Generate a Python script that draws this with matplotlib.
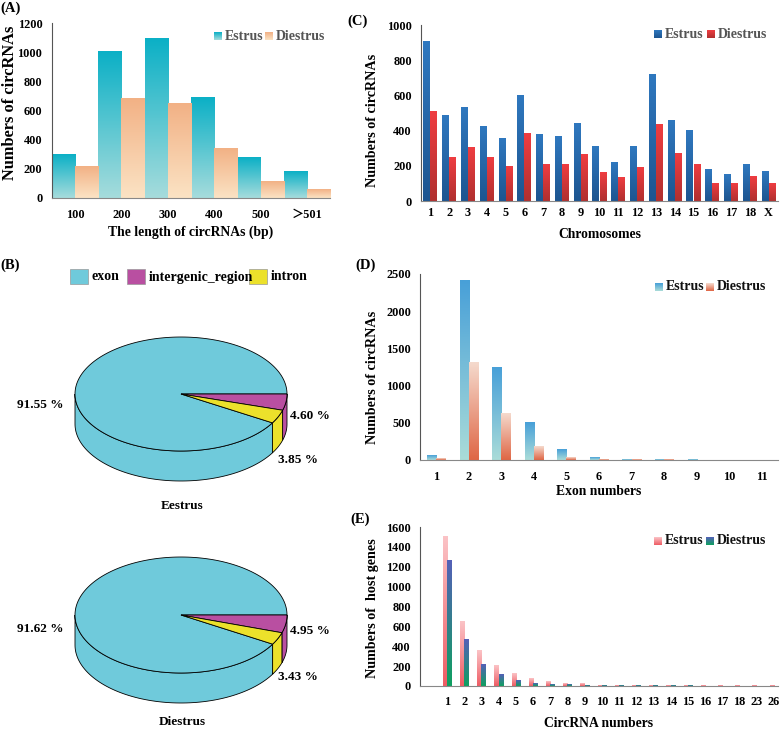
import numpy as np
import matplotlib
matplotlib.use("Agg")
import matplotlib.pyplot as plt
from matplotlib.colors import LinearSegmentedColormap
from matplotlib.patches import Polygon, Rectangle

plt.rcParams['font.family'] = ['Liberation Serif', 'Noto Sans CJK SC', 'DejaVu Serif']
plt.rcParams['font.weight'] = 'bold'
plt.rcParams['axes.labelweight'] = 'bold'

# (A) length distribution
len_cats = ['100', '200', '300', '400', '500', '＞501']
len_estrus = [300, 1005, 1095, 690, 280, 180]
len_diestrus = [215, 685, 645, 340, 110, 58]

# (B) genomic origin (%)
origin_names = ['exon', 'intergenic_region', 'intron']
origin_estrus = [91.55, 4.60, 3.85]
origin_diestrus = [91.62, 4.95, 3.43]

# (C) chromosomes
chroms = ['1', '2', '3', '4', '5', '6', '7', '8', '9', '10', '11', '12', '13',
          '14', '15', '16', '17', '18', 'X']
chr_estrus = [905, 485, 530, 425, 355, 600, 378, 368, 438, 310, 220, 310, 720,
              460, 400, 180, 148, 210, 170]
chr_diestrus = [510, 245, 305, 250, 195, 385, 205, 205, 265, 160, 135, 188, 433,
                270, 210, 97, 97, 137, 97]

# (D) exon numbers
exon_cats = ['1', '2', '3', '4', '5', '6', '7', '8', '9', '10', '11']
exon_estrus = [65, 2410, 1250, 500, 140, 30, 12, 3, 1, 0, 0]
exon_diestrus = [25, 1305, 620, 185, 35, 12, 5, 1, 0, 0, 0]

# (E) circRNAs per host gene
host_cats = ['1', '2', '3', '4', '5', '6', '7', '8', '9', '10', '11', '12', '13',
             '14', '15', '16', '17', '18', '23', '26']
host_estrus = [1505, 645, 360, 210, 130, 80, 45, 25, 22, 10, 8, 5, 5, 3, 2, 1, 1, 1, 1, 1]
host_diestrus = [1260, 465, 220, 120, 55, 30, 12, 12, 5, 4, 3, 2, 1, 1, 1, 0, 0, 0, 0, 0]

W, H = 784, 729
fig = plt.figure(figsize=(W / 100, H / 100), dpi=100)


def fx(px):
    return px / W


def fy(py):
    return 1 - py / H


def grad_bars(ax, x, vals, width, c_top, c_bot):
    cmap = LinearSegmentedColormap.from_list('g', [c_bot, c_top])
    bars = ax.bar(x, vals, width, color='none', edgecolor='none')
    grad = np.linspace(0, 1, 128).reshape(-1, 1)
    for b in bars:
        h = b.get_height()
        if h <= 0:
            continue
        ax.imshow(grad, extent=[b.get_x(), b.get_x() + b.get_width(), 0, h],
                  origin='lower', cmap=cmap, aspect='auto', zorder=2,
                  interpolation='bilinear')
    return bars


def style_axis(ax, xpad, ypad, ylab_xy, xlab_y, ylab_fs=10.2):
    for s in ['top', 'right']:
        ax.spines[s].set_visible(False)
    ax.spines['left'].set_color('#555555')
    ax.spines['bottom'].set_color('#888888')
    ax.tick_params(length=0, labelsize=8.8)
    ax.tick_params(axis='x', pad=xpad)
    ax.tick_params(axis='y', pad=ypad)
    for t in ax.get_xticklabels() + ax.get_yticklabels():
        t.set_fontweight('bold')
    ax.yaxis.label.set_size(ylab_fs)
    ax.xaxis.label.set_size(9.8)
    ax.yaxis.set_label_coords(*ylab_xy)
    ax.xaxis.set_label_coords(0.5, xlab_y)
    ax.xaxis.label.set_va('center')
    ax.yaxis.label.set_va('center')


# ---------- (A) ----------
axA = fig.add_axes([fx(52), fy(198), fx(278), (198 - 23) / H])
xa = np.arange(len(len_cats))
grad_bars(axA, xa - 0.25, len_estrus, 0.5, '#0bb0c6', '#a6dcdc')
grad_bars(axA, xa + 0.25, len_diestrus, 0.5, '#f2b185', '#fbe3c4')
axA.set_xlim(-0.5, len(len_cats) - 0.5)
axA.set_ylim(0, 1200)
axA.set_yticks(range(0, 1201, 200))
axA.set_xticks(xa)
axA.set_xticklabels(len_cats)
axA.set_xlabel('The length of circRNAs (bp)')
axA.set_ylabel('Numbers of circRNAs')
style_axis(axA, 8, 7, (-0.151, 0.543), -0.194, ylab_fs=11.8)

# ---------- (C) ----------
axC = fig.add_axes([fx(421), fy(201), fx(357), (201 - 25) / H])
xc = np.arange(len(chroms))
grad_bars(axC, xc - 0.19, chr_estrus, 0.37, '#2f78bf', '#1d5590')
grad_bars(axC, xc + 0.19, chr_diestrus, 0.37, '#ef3d41', '#b0302f')
axC.set_xlim(-0.5, len(chroms) - 0.5)
axC.set_ylim(0, 1000)
axC.set_yticks(range(0, 1001, 200))
axC.set_xticks(xc)
axC.set_xticklabels(chroms)
axC.set_xlabel('Chromosomes')
axC.set_ylabel('Numbers of circRNAs')
style_axis(axC, 4.5, 6.5, (-0.137, 0.46), -0.193)

# ---------- (D) ----------
axD = fig.add_axes([fx(420), fy(460), fx(358), (460 - 274) / H])
xd = np.arange(len(exon_cats))
grad_bars(axD, xd - 0.14, exon_estrus, 0.28, '#48a0d8', '#aadcd8')
grad_bars(axD, xd + 0.14, exon_diestrus, 0.28, '#f5dacd', '#df6645')
axD.set_xlim(-0.5, len(exon_cats) - 0.5)
axD.set_ylim(0, 2500)
axD.set_yticks(range(0, 2501, 500))
axD.set_xticks(xd)
axD.set_xticklabels(exon_cats)
axD.set_xlabel('Exon numbers')
axD.set_ylabel('Numbers of circRNAs')
style_axis(axD, 8, 6.5, (-0.134, 0.446), -0.167)

# ---------- (E) ----------
axE = fig.add_axes([fx(420), fy(686), fx(358), (686 - 527) / H])
xe = np.arange(len(host_cats))
grad_bars(axE, xe - 0.125, host_estrus, 0.25, '#fbc3c6', '#ee5c64')
grad_bars(axE, xe + 0.125, host_diestrus, 0.25, '#5560b8', '#0fa060')
axE.set_xlim(-1.57, len(host_cats) - 0.76)
axE.set_ylim(0, 1600)
axE.set_yticks(range(0, 1601, 200))
axE.set_xticks(xe)
axE.set_xticklabels(host_cats)
axE.set_xlabel('CircRNA numbers')
axE.set_ylabel('Numbers of  host genes')
style_axis(axE, 7.5, 6.5, (-0.134, 0.49), -0.233)


# legends with gradient squares (figure pixel coords)
def leg(items, y, fs, color):
    for (x, label, ct, cb) in items:
        cmap = LinearSegmentedColormap.from_list('g', [cb, ct])
        lax = fig.add_axes([fx(x), fy(y + 4), fx(8), 8 / H])
        lax.imshow(np.linspace(0, 1, 32).reshape(-1, 1), origin='lower',
                   cmap=cmap, aspect='auto')
        lax.axis('off')
        fig.text(fx(x + 11), fy(y), label, fontsize=fs, color=color,
                 fontweight='bold', va='center', ha='left')


leg([(214, 'Estrus', '#0bb0c6', '#a6dcdc'), (265, 'Diestrus', '#f2b185', '#fbe3c4')],
    36, 10, '#555555')
leg([(654, 'Estrus', '#2f78bf', '#1d5590'), (707, 'Diestrus', '#ef3d41', '#b0302f')],
    34, 10, '#555555')
leg([(655, 'Estrus', '#48a0d8', '#aadcd8'), (706, 'Diestrus', '#f5dacd', '#df6645')],
    287, 10, '#111111')
leg([(654, 'Estrus', '#fbc3c6', '#ee5c64'), (706, 'Diestrus', '#5560b8', '#0fa060')],
    541, 10, '#111111')

# ---------- (B) 3D pies ----------
axB = fig.add_axes([0, 0, 1, 1], zorder=-1)
axB.set_xlim(0, W)
axB.set_ylim(H, 0)
axB.axis('off')

pie_colors = ['#6fcadb', '#b94fa1', '#ece12b']


def pie3d(cx, cy, a, b, depth, perc):
    fr = np.array(perc) / sum(perc)
    # exon counter-clockwise from 0 deg, the others clockwise from 0 deg
    spans = [(0, 360 * fr[0])]
    start = 0
    for f in fr[1:]:
        spans.append((start - 360 * f, start))
        start -= 360 * f
    # front wall pieces (angles -180..0)
    walls = [(-180, spans[-1][0])] + [s for s in spans[1:]]
    for (lo, hi), col in zip(walls, pie_colors):
        lo, hi = max(lo, -180), min(hi, 0)
        if hi <= lo:
            continue
        t = np.radians(np.linspace(lo, hi, 80))
        top = np.c_[cx + a * np.cos(t), cy - b * np.sin(t)]
        bot = np.c_[cx + a * np.cos(t), cy - b * np.sin(t) + depth][::-1]
        axB.add_patch(Polygon(np.r_[top, bot], closed=True, fc=col,
                              ec='black', lw=0.6, zorder=1))
    # top faces
    for (t0, t1), col in zip(spans, pie_colors):
        t = np.radians(np.linspace(t0, t1, 200))
        pts = np.r_[[[cx, cy]], np.c_[cx + a * np.cos(t), cy - b * np.sin(t)]]
        axB.add_patch(Polygon(pts, closed=True, fc=col, ec='black', lw=0.6,
                              zorder=2))


pie3d(181, 394, 106, 57, 30, origin_estrus)
pie3d(181, 615, 106, 58, 30, origin_diestrus)

fs_p = 9.5
fig.text(fx(40), fy(405), '%.2f %%' % origin_estrus[0], ha='center', va='center', fontsize=fs_p)
fig.text(fx(310), fy(416), '%.2f %%' % origin_estrus[1], ha='center', va='center', fontsize=fs_p)
fig.text(fx(298), fy(460), '%.2f %%' % origin_estrus[2], ha='center', va='center', fontsize=fs_p)
fig.text(fx(182), fy(506), 'Eestrus', ha='center', va='center', fontsize=9.5)
fig.text(fx(40), fy(629), '%.2f %%' % origin_diestrus[0], ha='center', va='center', fontsize=fs_p)
fig.text(fx(310), fy(631), '%.2f %%' % origin_diestrus[1], ha='center', va='center', fontsize=fs_p)
fig.text(fx(298), fy(677), '%.2f %%' % origin_diestrus[2], ha='center', va='center', fontsize=fs_p)
fig.text(fx(182), fy(722), 'Diestrus', ha='center', va='center', fontsize=9.5)

# pie legend
for x, name, col in zip([70, 127, 249], origin_names, pie_colors):
    axB.add_patch(Rectangle((x, 269), 18, 15, fc=col, ec='#999999', lw=0.5))
    fig.text(fx(x + 22), fy(277), name, ha='left', va='center', fontsize=10)

# panel letters
fig.text(fx(0), fy(8), '(A)', ha='left', va='center', fontsize=10.5)
fig.text(fx(0), fy(265), '(B)', ha='left', va='center', fontsize=10.5)
fig.text(fx(347), fy(21), '(C)', ha='left', va='center', fontsize=10.5)
fig.text(fx(355), fy(265), '(D)', ha='left', va='center', fontsize=10.5)
fig.text(fx(350), fy(519), '(E)', ha='left', va='center', fontsize=10.5)

fig.savefig('out.png', dpi=100)
